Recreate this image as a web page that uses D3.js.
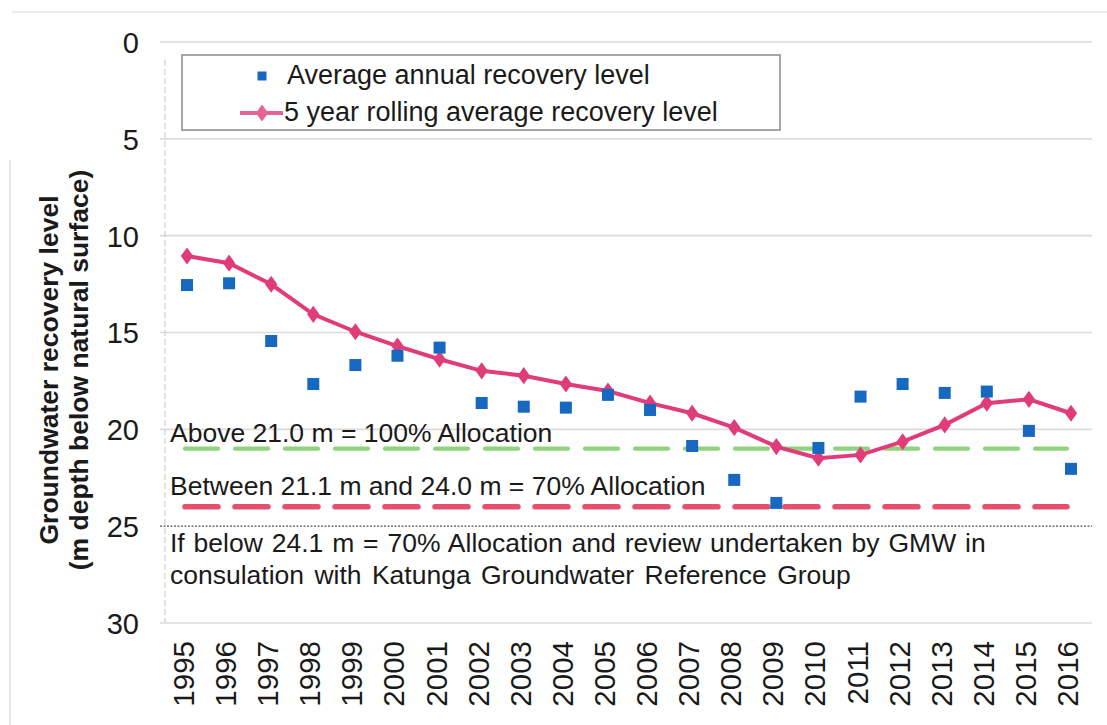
<!DOCTYPE html>
<html><head><meta charset="utf-8">
<script src="https://cdn.jsdelivr.net/npm/d3@7"></script>
<style>
body{margin:0;background:#fff;}
svg{display:block;font-family:"Liberation Sans",Arial,sans-serif;}
</style></head>
<body>
<svg id="chart" width="1107" height="725"></svg>
<script>
const years = ["1995","1996","1997","1998","1999","2000","2001","2002","2003","2004","2005","2006","2007","2008","2009","2010","2011","2012","2013","2014","2015","2016"];
const annualLevel = [12.55,12.46,15.44,17.66,16.68,16.2,15.78,18.64,18.83,18.88,18.22,19.0,20.86,22.61,23.8,20.96,18.31,17.66,18.12,18.05,20.08,22.04];
const rollingLevel = [11.05,11.42,12.51,14.06,14.96,15.7,16.38,16.98,17.23,17.66,18.02,18.65,19.17,19.91,20.89,21.49,21.32,20.64,19.77,18.65,18.45,19.17];
const yTicks = [0,5,10,15,20,25,30];
const thresholds = [21.0, 24.0];
const seriesNames = ["Average annual recovery level","5 year rolling average recovery level"];
const notes = ["Above 21.0 m = 100% Allocation","Between 21.1 m and 24.0 m = 70% Allocation"];
const reviewNote = ["If below 24.1 m = 70% Allocation and review undertaken by GMW in","consulation with Katunga Groundwater Reference Group"];
const yTitle = ["Groundwater recovery level","(m depth below natural surface)"];

const svg = d3.select("#chart");
const pLeft = 165, pRight = 1092, pTop = 42, pBottom = 623;
const x = d3.scalePoint().domain(years).range([187,1071]);
const y = d3.scaleLinear().domain([0,30]).range([pTop,pBottom]);
const ink = "#1a1a1a";

// scan frame
svg.append("line").attr("x1",12).attr("x2",1107).attr("y1",12).attr("y2",12).attr("stroke","#e6e6e6").attr("stroke-width",1.5);
svg.append("line").attr("x1",10).attr("x2",10).attr("y1",160).attr("y2",725).attr("stroke","#e0e0e0").attr("stroke-width",1.5);

// gridlines
svg.append("g").selectAll("line").data(yTicks).join("line")
  .attr("x1",160).attr("x2",pRight).attr("y1",d=>y(d)).attr("y2",d=>y(d))
  .attr("stroke",d=>d===25?"#555":"#dcdcdc")
  .attr("stroke-width",d=>d===25?1.2:1.6)
  .attr("stroke-dasharray",d=>d===25?"2,1.5":null);
// y axis line
svg.append("line").attr("x1",pLeft).attr("x2",pLeft).attr("y1",pTop+18).attr("y2",pBottom)
  .attr("stroke","#c4c4c4").attr("stroke-width",1).attr("stroke-dasharray","6,3");

// y tick labels
const yAxis = d3.axisLeft(y).tickValues(yTicks).tickSize(0).tickPadding(0);
const yg = svg.append("g").attr("transform",`translate(${139},0)`).call(yAxis);
yg.select(".domain").remove();
yg.selectAll("text").attr("font-size",29).attr("fill",ink).attr("font-family","Liberation Sans, Arial, sans-serif").attr("dy","0.36em");

// x tick labels
svg.append("g").selectAll("text").data(years).join("text")
  .attr("transform",d=>`translate(${x(d)+7},${641}) rotate(-90)`)
  .attr("text-anchor","end").attr("font-size",29.5).attr("fill",ink).text(d=>d);

// y title
const tg = svg.append("g").attr("transform","translate(0,370)");
yTitle.forEach((t,i)=>{
  tg.append("text").attr("transform",`translate(${58+i*30},0) rotate(-90)`)
    .attr("text-anchor","middle").attr("font-size",26.5).attr("font-weight","bold")
    .attr("fill",ink).text(t);
});

// threshold lines
const thColors = ["#8fd37c","#e6506f"];
const thWidths = [4.2,5.5];
svg.append("g").selectAll("line").data(thresholds).join("line")
  .attr("x1",x(years[0])-2).attr("x2",x(years[years.length-1])-4)
  .attr("y1",d=>y(d)).attr("y2",d=>y(d))
  .attr("stroke",(d,i)=>thColors[i]).attr("stroke-width",(d,i)=>thWidths[i])
  .attr("stroke-linecap","round").attr("stroke-dasharray","33,17");

// annotations
svg.append("g").selectAll("text").data(notes).join("text")
  .attr("x",170).attr("y",(d,i)=>[442,495][i]).attr("font-size",26.5)
  .attr("fill",ink).text(d=>d);
svg.append("g").selectAll("text").data(reviewNote).join("text")
  .attr("x",170).attr("y",(d,i)=>[552,584][i]).attr("font-size",26.5)
  .attr("word-spacing",(d,i)=>[1.5,3][i]+"px").attr("fill",ink).text(d=>d);

// rolling line
const pink = "#e03c7a";
svg.append("path").datum(rollingLevel)
  .attr("d",d3.line().x((d,i)=>x(years[i])).y(d=>y(d)))
  .attr("fill","none").attr("stroke",pink).attr("stroke-width",4);
const diamond = d3.symbol().type(d3.symbolDiamond).size(85);
svg.append("g").selectAll("path").data(rollingLevel).join("path")
  .attr("transform",(d,i)=>`translate(${x(years[i])},${y(d)}) scale(1.25,1)`)
  .attr("d",diamond).attr("fill",pink);

// annual squares
const blue = "#1668c1";
svg.append("g").selectAll("rect").data(annualLevel).join("rect")
  .attr("x",(d,i)=>x(years[i])-6).attr("y",d=>y(d)-6)
  .attr("width",12).attr("height",12).attr("fill",blue);

// legend
const lg = svg.append("g");
lg.append("rect").attr("x",182).attr("y",55).attr("width",598).attr("height",75)
  .attr("fill","#fff").attr("stroke","#8a8a8a").attr("stroke-width",1.5);
lg.append("rect").attr("x",257.5).attr("y",71.5).attr("width",9).attr("height",9).attr("fill",blue);
lg.append("line").attr("x1",240).attr("x2",283).attr("y1",113).attr("y2",113).attr("stroke","#e4649a").attr("stroke-width",4);
lg.append("path").attr("transform","translate(262,113) scale(1.25,1)").attr("d",diamond).attr("fill","#e4649a");
lg.selectAll("text").data(seriesNames).join("text")
  .attr("x",(d,i)=>[287,284][i]).attr("y",(d,i)=>[84,121][i])
  .attr("font-size",27).attr("fill",ink).text(d=>d);
</script>
</body></html>
